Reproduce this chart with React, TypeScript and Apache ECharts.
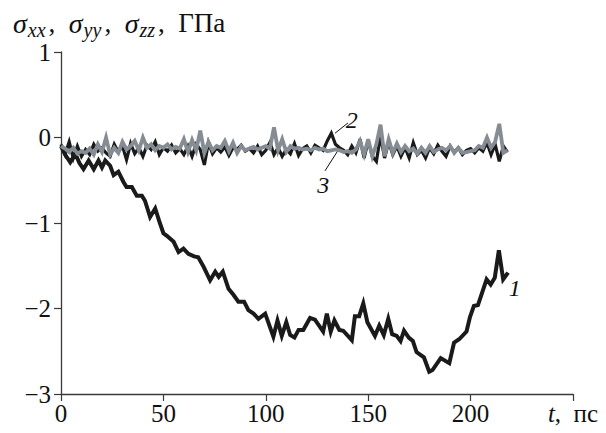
import React, { useEffect, useRef } from "react";
import * as echarts from "echarts";

// Curve 1 (sigma_xx)
const t1 = [0, 2, 4.5, 7, 9, 11, 13.5, 16, 18.3, 20, 21.6, 24, 25.7, 28, 30.5, 32, 34.6, 37, 39.5, 41, 43.5, 46, 48, 50, 51.7, 55, 57.4, 59.8, 62.2, 65, 67, 69.6, 72.8, 75.3, 77, 79, 81.8, 84.2, 86.6, 89.4, 91.5, 94, 96.4, 99.7, 103.7, 105.7, 107.8, 110, 111.9, 114, 116, 118.3, 121.6, 124, 128, 129.8, 131.7, 133.5, 135.9, 137.8, 142, 143.5, 145.6, 147.6, 149.6, 153.3, 155.4, 157.6, 159.8, 161.7, 163.9, 165.8, 167.5, 169.8, 171.8, 173.6, 177.2, 179.8, 181.4, 185.4, 189.6, 191.9, 194.4, 198, 199.7, 201.6, 203.6, 207.8, 209.8, 211.8, 213.8, 215.9, 218.3];
const v1 = [-0.1, -0.2, -0.29, -0.19, -0.3, -0.37, -0.27, -0.37, -0.27, -0.35, -0.27, -0.33, -0.44, -0.4, -0.52, -0.58, -0.58, -0.68, -0.68, -0.74, -0.93, -0.83, -0.98, -1.12, -1.15, -1.22, -1.34, -1.3, -1.36, -1.39, -1.4, -1.51, -1.67, -1.57, -1.63, -1.57, -1.77, -1.84, -1.92, -1.92, -2.02, -2.06, -2.12, -2.06, -2.33, -2.14, -2.32, -2.16, -2.31, -2.34, -2.25, -2.25, -2.11, -2.13, -2.27, -2.06, -2.27, -2.14, -2.25, -2.26, -2.37, -2.09, -2.09, -1.94, -2.16, -2.32, -2.2, -2.31, -2.12, -2.3, -2.32, -2.38, -2.26, -2.34, -2.38, -2.51, -2.57, -2.74, -2.72, -2.58, -2.64, -2.4, -2.36, -2.27, -2.1, -1.97, -1.96, -1.66, -1.72, -1.64, -1.32, -1.66, -1.58];

// Curves 2 and 3 share the time grid
const t23 = [0, 2, 4, 6, 8, 10, 12, 14, 16, 18, 20, 22, 24, 26, 28, 30, 32, 34, 36, 38, 40, 42, 44, 46, 48, 50, 52, 54, 56, 58, 60, 62, 64, 66, 68, 70, 72, 74, 76, 78, 80, 82, 84, 86, 88, 90, 92, 94, 96, 98, 100, 102, 104, 106, 108, 110, 112, 114, 116, 118, 120, 122, 124, 126, 128, 130, 132, 134, 136, 138, 140, 142, 144, 146, 148, 150, 152, 154, 156, 158, 160, 162, 164, 166, 168, 170, 172, 174, 176, 178, 180, 182, 184, 186, 188, 190, 192, 194, 196, 198, 200, 202, 204, 206, 208, 210, 212, 214, 216, 218];
const v2 = [-0.08, -0.2, -0.05, -0.24, -0.1, -0.22, -0.14, -0.2, -0.08, -0.16, -0.12, -0.18, -0.22, -0.08, -0.17, -0.1, -0.26, -0.07, -0.19, -0.12, -0.22, -0.09, -0.14, -0.05, -0.2, -0.12, -0.16, -0.09, -0.18, -0.13, -0.2, -0.1, -0.22, -0.08, -0.14, -0.32, -0.06, -0.19, -0.12, -0.17, -0.11, -0.21, -0.12, -0.14, -0.09, -0.16, -0.13, -0.18, -0.1, -0.2, -0.15, -0.06, -0.2, -0.12, -0.22, -0.14, -0.19, -0.07, -0.21, -0.13, -0.1, -0.18, -0.09, -0.12, -0.15, -0.04, 0.05, -0.08, -0.12, -0.15, -0.2, -0.1, -0.18, -0.02, -0.24, -0.04, -0.22, -0.28, 0.02, -0.24, -0.05, -0.2, -0.1, -0.22, -0.12, -0.24, -0.06, -0.2, -0.15, -0.24, -0.12, -0.19, -0.09, -0.16, -0.22, -0.1, -0.17, -0.12, -0.2, -0.15, -0.13, -0.18, -0.12, -0.16, -0.06, -0.2, -0.08, -0.28, -0.1, -0.17];
const v3 = [-0.1, -0.13, -0.17, -0.12, -0.19, -0.16, -0.18, -0.13, -0.2, -0.08, -0.17, 0.0, -0.2, -0.12, -0.18, -0.05, -0.14, -0.1, -0.04, -0.15, 0.0, -0.12, -0.08, -0.15, -0.1, -0.12, -0.08, -0.14, -0.11, -0.13, -0.02, -0.17, -0.03, -0.15, 0.08, -0.18, -0.05, -0.15, -0.1, -0.12, -0.04, -0.16, -0.06, -0.18, -0.1, -0.15, -0.13, -0.11, -0.14, -0.12, -0.1, -0.13, 0.12, -0.15, -0.02, -0.17, -0.1, -0.13, -0.12, -0.14, -0.13, -0.15, -0.12, -0.14, -0.13, -0.16, -0.15, -0.14, -0.15, -0.17, -0.16, -0.18, -0.14, -0.04, -0.2, -0.02, -0.22, -0.08, 0.15, -0.22, -0.02, -0.18, -0.07, -0.17, -0.1, -0.16, -0.13, -0.19, -0.12, -0.18, -0.1, -0.17, -0.14, -0.12, -0.15, -0.1, -0.18, -0.12, -0.18, -0.17, -0.16, -0.15, -0.1, -0.12, 0.0, -0.12, -0.05, 0.16, -0.18, -0.15];

// Annotation anchors (data coords)
const lead2 = [[133.8, 0.05], [140.1, 0.17]];
const lead3 = [[135.3, -0.15], [128.9, -0.39]];
const label1 = [221.6, -1.76];

const X_MIN = 0, X_MAX = 250, X_STEP = 50;
const Y_MIN = -3, Y_MAX = 1, Y_STEP = 1;

const SERIF = "'Liberation Serif', serif";
const INK = "#111";
const AXIS = "#3a3a3a";
const FS = 25;

export default function App() {
  const ref = useRef<HTMLDivElement>(null);
  useEffect(() => {
    if (!ref.current) return;
    const chart = echarts.init(ref.current, null, { renderer: "svg" });
    const zip = (t: number[], v: number[]) => t.map((x, i) => [x, v[i]]);
    const ital = { fontFamily: SERIF, fontStyle: "italic", fontWeight: "normal", color: INK };
    const upr = { fontFamily: SERIF, fontStyle: "normal", fontWeight: "normal", color: INK };
    chart.setOption({
      animation: false,
      backgroundColor: "#fff",
      textStyle: { fontFamily: SERIF },
      title: {
        left: 8,
        top: 1,
        text: "{s|σ}{b|xx}{n|,  }{s|σ}{b|yy}{n|,  }{s|σ}{b|zz}{n|,  ГПа}",
        textStyle: {
          fontFamily: SERIF,
          fontWeight: "normal",
          fontSize: 27,
          color: INK,
          rich: {
            s: { ...ital, fontSize: 28, lineHeight: 34, verticalAlign: "middle" },
            b: { ...ital, fontSize: 20, lineHeight: 20, verticalAlign: "bottom", padding: [0, 3, 0, 1] },
            n: { ...upr, fontSize: 27, lineHeight: 34, verticalAlign: "middle" },
          },
        },
      },
      grid: { left: 61, right: 33, top: 52, bottom: 39, containLabel: false },
      xAxis: {
        type: "value",
        min: X_MIN,
        max: X_MAX,
        interval: X_STEP,
        splitLine: { show: false },
        axisLine: { onZero: false, lineStyle: { color: AXIS, width: 1.3 } },
        axisTick: { show: true, length: 7, lineStyle: { color: AXIS, width: 1.2 } },
        axisLabel: {
          ...upr,
          fontSize: FS,
          margin: 7,
          showMaxLabel: true,
          formatter: (v: number) => (v === X_MAX ? "{i|t}{n|,  пс}" : String(v)),
          rich: {
            i: { ...ital, fontSize: FS },
            n: { ...upr, fontSize: FS },
          },
        },
      },
      yAxis: {
        type: "value",
        min: Y_MIN,
        max: Y_MAX,
        interval: Y_STEP,
        splitLine: { show: false },
        axisLine: { show: true, onZero: false, lineStyle: { color: AXIS, width: 1.3 } },
        axisTick: { show: true, length: 7, lineStyle: { color: AXIS, width: 1.2 } },
        axisLabel: {
          ...upr,
          fontSize: FS,
          margin: 10,
          formatter: (v: number) => (v < 0 ? "−" + Math.abs(v) : String(v)),
        },
      },
      series: [
        {
          name: "1",
          type: "line",
          data: zip(t1, v1),
          symbol: "none",
          lineStyle: { color: "#1a1a1a", width: 4, join: "miter" },
          z: 3,
          markPoint: {
            silent: true,
            symbol: "circle",
            symbolSize: 0,
            data: [{ coord: label1 }],
            label: { show: true, formatter: "1", ...ital, fontSize: 24, position: "inside" },
          },
        },
        {
          name: "2",
          type: "line",
          data: zip(t23, v2),
          symbol: "none",
          lineStyle: { color: "#1a1a1a", width: 3.2, join: "miter" },
          z: 4,
          markLine: {
            silent: true,
            symbol: "none",
            lineStyle: { color: INK, width: 1, type: "solid" },
            label: { show: true, position: "end", formatter: "2", ...ital, fontSize: 24, distance: 5 },
            data: [[{ coord: lead2[0] }, { coord: lead2[1] }]],
          },
        },
        {
          name: "3",
          type: "line",
          data: zip(t23, v3),
          symbol: "none",
          lineStyle: { color: "#858c93", width: 3.8, join: "miter" },
          z: 5,
          markLine: {
            silent: true,
            symbol: "none",
            lineStyle: { color: INK, width: 1, type: "solid" },
            label: { show: true, position: "end", formatter: "3", ...ital, fontSize: 24, distance: 3 },
            data: [[{ coord: lead3[0] }, { coord: lead3[1] }]],
          },
        },
      ],
    });
    return () => chart.dispose();
  }, []);
  return (
    <div
      ref={ref}
      style={{ position: "absolute", left: 0, top: 0, width: 606, height: 433 }}
    />
  );
}
